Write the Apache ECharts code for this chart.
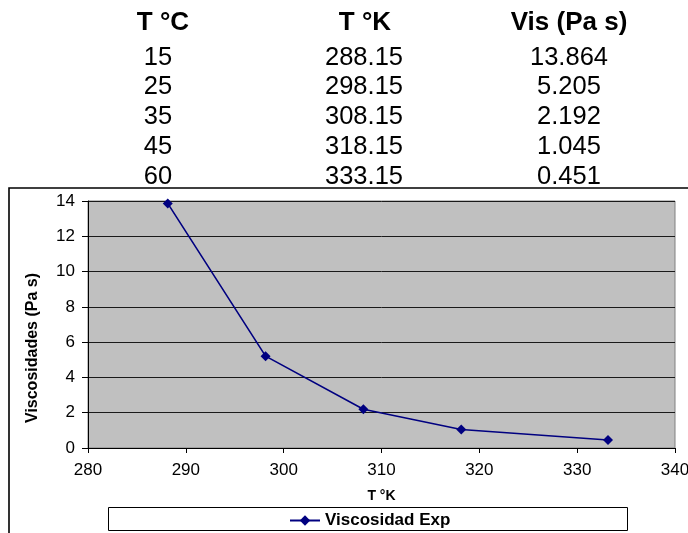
<!DOCTYPE html>
<html>
<head>
<meta charset="utf-8">
<script src="https://cdn.jsdelivr.net/npm/echarts@6/dist/echarts.min.js"></script>
<style>
  html, body { margin: 0; padding: 0; background: #fff; }
  #chart { width: 688px; height: 533px; }
</style>
</head>
<body>
<div id="chart"></div>
<script>
// Viscosity measurements at several temperatures
const tempC = [15, 25, 35, 45, 60];
const tempK = [288.15, 298.15, 308.15, 318.15, 333.15];
const viscosity = [13.864, 5.205, 2.192, 1.045, 0.451];
const tableHeaders = ['T °C', 'T °K', 'Vis (Pa s)'];
const seriesName = 'Viscosidad Exp';
const xAxisTitle = 'T °K';
const yAxisTitle = 'Viscosidades (Pa s)';

const FONT = '"Liberation Sans", Arial, sans-serif';
const headerX = [163, 365, 569];
const cellX = [158, 364, 569];

// Data table drawn above the chart
const tableTexts = [];
tableHeaders.forEach((h, i) => {
  tableTexts.push({
    type: 'text', x: headerX[i], y: 23,
    style: { text: h, font: 'bold 26px ' + FONT, fill: '#000', align: 'center', verticalAlign: 'middle' }
  });
});
const rows = tempC.map((c, i) => [String(c), tempK[i].toFixed(2), viscosity[i].toFixed(3)]);
rows.forEach((r, j) => {
  r.forEach((t, i) => {
    tableTexts.push({
      type: 'text', x: cellX[i], y: 57.5 + j * 29.75,
      style: { text: t, font: '25.5px ' + FONT, fill: '#000', align: 'center', verticalAlign: 'middle' }
    });
  });
});

const chart = echarts.init(document.getElementById('chart'), null, { renderer: 'canvas' });
chart.setOption({
  backgroundColor: '#fff',
  animation: false,
  graphic: [
    // chart frame
    { type: 'rect', z: -10, shape: { x: 9, y: 188, width: 700, height: 360 },
      style: { fill: '#fff', stroke: '#000', lineWidth: 1.6 } },
    // legend box
    { type: 'rect', z: 10, shape: { x: 108.5, y: 507.5, width: 519, height: 23 },
      style: { fill: '#fff', stroke: '#000', lineWidth: 1 } },
    // vertical axis title
    { type: 'text', z: 10, x: 33, y: 348, rotation: Math.PI / 2,
      style: { text: yAxisTitle, font: 'bold 16px ' + FONT, fill: '#000', align: 'center', verticalAlign: 'middle' } }
  ].concat(tableTexts),
  grid: {
    left: 88, top: 201, right: 13, bottom: 85,
    outerBoundsMode: 'none',
    containLabel: false,
    show: true, backgroundColor: '#c0c0c0', borderColor: '#808080', borderWidth: 1
  },
  legend: {
    left: 284, top: 507, z: 20,
    itemWidth: 30, itemHeight: 13, itemGap: 5,
    textStyle: { fontFamily: FONT, fontWeight: 'bold', fontSize: 17, color: '#000' },
    data: [seriesName]
  },
  xAxis: {
    type: 'value', min: 280, max: 340, interval: 10,
    name: xAxisTitle, nameLocation: 'middle', nameGap: 41,
    nameTextStyle: { fontFamily: FONT, fontWeight: 'bold', fontSize: 14, color: '#000' },
    axisLine: { show: true, lineStyle: { color: '#000', width: 1 } },
    axisTick: { show: true, length: 5, lineStyle: { color: '#000' } },
    axisLabel: { margin: 14, fontFamily: FONT, fontSize: 17, color: '#000' },
    splitLine: { show: false }
  },
  yAxis: {
    type: 'value', min: 0, max: 14, interval: 2,
    axisLine: { show: true, lineStyle: { color: '#000', width: 1 } },
    axisTick: { show: true, length: 6, lineStyle: { color: '#000' } },
    axisLabel: { margin: 13, fontFamily: FONT, fontSize: 17, color: '#000' },
    splitLine: { show: true, lineStyle: { color: '#1a1a1a', width: 1 } }
  },
  series: [{
    name: seriesName,
    type: 'line',
    data: tempK.map((k, i) => [k, viscosity[i]]),
    symbol: 'diamond', symbolSize: 10,
    itemStyle: { color: '#000080' },
    lineStyle: { color: '#000080', width: 1.6 }
  }]
});
</script>
</body>
</html>
